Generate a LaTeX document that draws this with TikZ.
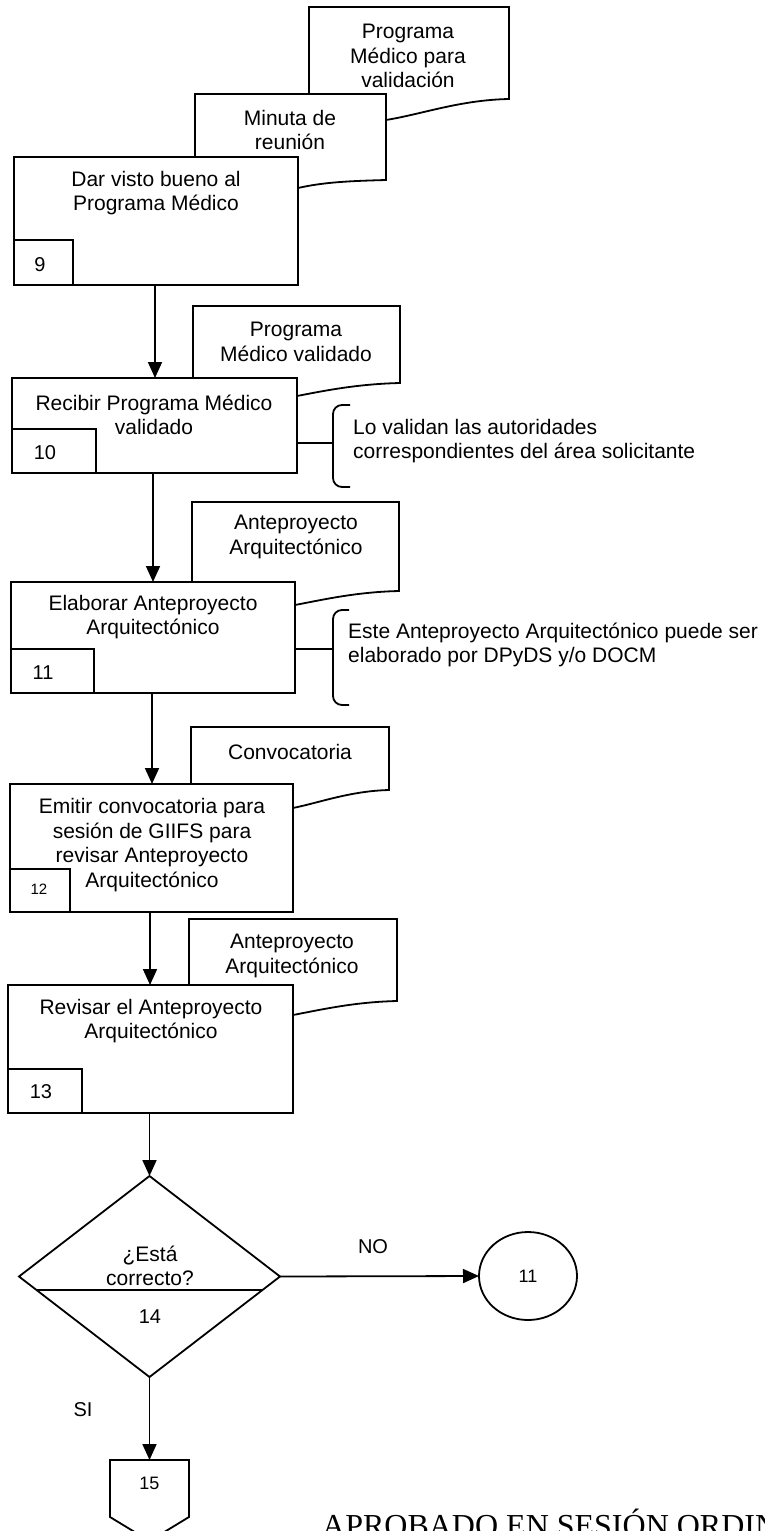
\documentclass[tikz,border=0pt]{standalone}
\usepackage{fontspec}
\setmainfont{Liberation Sans}
\newfontfamily\stampfont{Liberation Serif}
\usetikzlibrary{arrows.meta,shapes.geometric,calc}

\tikzset{
  ln/.style={line width=1.8pt},
  procbox/.style={draw, line width=1.8pt, fill=white, rectangle, inner sep=0pt, outer sep=0pt},
  numbox/.style={draw, line width=1.8pt, fill=white, rectangle, inner sep=0pt, outer sep=0pt},
  txt/.style={inner sep=0pt, align=center, font=\fontsize{21pt}{24.5pt}\selectfont},
  ann/.style={inner sep=0pt, align=left, font=\fontsize{21pt}{24.5pt}\selectfont},
  numtxt/.style={inner sep=0pt, font=\fontsize{20pt}{24pt}\selectfont},
  docshape/.style={draw, line width=1.8pt, fill=white, line join=miter},
  arr/.style={line width=1.8pt, -{Triangle[length=16pt,width=14pt]}},
}

\newcommand\docpath[6]{%
  \path[docshape] (#1,#2) -- (#3,#2) -- (#3,#4) .. controls ({#3-0.4*(#3-#5)},{#4+1}) and ({#5+0.3*(#3-#5)},{#6-6}) .. (#5,#6) -- (#1,{#6+3}) -- cycle;}

\begin{document}
\begin{tikzpicture}[x=1pt,y=-1pt]
\useasboundingbox (0,0) rectangle (765,1531);
\clip (0,0) rectangle (765,1531);
\fill[white] (0,0) rectangle (765,1531);

% ---------- step 9 ----------
\docpath{309}{7}{509}{99}{386}{120}
\node[txt] (d1) at (408,56) {Programa\\Médico para\\validación};
\docpath{195}{94}{386}{180}{298}{188}
\node[txt] (d2) at (290,130) {Minuta de\\reunión};
\node[procbox, minimum width=284pt, minimum height=128pt] (b9) at (156,221) {};
\node[txt] (t9) at (156,193) {Dar visto bueno al\\Programa Médico};
\node[numbox, minimum width=59pt, minimum height=45pt] (n9) at (43.5,262.5) {};
\node[numtxt] (l9) at (40,265) {9};

% ---------- step 10 ----------
\docpath{193}{306}{400}{383}{297}{396}
\node[txt] (d3) at (296,342) {Programa\\Médico validado};
\node[procbox, minimum width=285pt, minimum height=95pt] (b10) at (154.5,425.5) {};
\node[txt] (t10) at (154,415) {Recibir Programa Médico\\validado};
\node[numbox, minimum width=84pt, minimum height=44pt] (n10) at (54,451) {};
\node[numtxt] (l10) at (45,453) {10};
\coordinate (x9) at (155,0);
\draw[arr] (b9.south -| x9) -- (b10.north -| x9);

\coordinate (br1) at (333,443);
\draw[ln] (b10.east |- br1) -- (br1);
\draw[ln, rounded corners=9pt] (350,405) -- (333,405) -- (333,487) -- (350,487);
\node[ann, anchor=west] (a1) at (353,441) {Lo validan las autoridades\\correspondientes del área solicitante};

% ---------- step 11 ----------
\docpath{192}{502}{399}{591}{295}{605}
\node[txt] (d4) at (296,537) {Anteproyecto\\Arquitectónico};
\node[procbox, minimum width=284pt, minimum height=111pt] (b11) at (153,637.5) {};
\node[txt] (t11) at (153,617) {Elaborar Anteproyecto\\Arquitectónico};
\node[numbox, minimum width=83pt, minimum height=44pt] (n11) at (52.5,671) {};
\node[numtxt] (l11) at (43,673) {11};
\coordinate (x10) at (153,0);
\draw[arr] (b10.south -| x10) -- (b11.north -| x10);

\coordinate (br2) at (333,649);
\draw[ln] (b11.east |- br2) -- (br2);
\draw[ln, rounded corners=9pt] (349,610) -- (333,610) -- (333,705) -- (349,705);
\node[ann, anchor=west] (a2) at (348,645) {Este Anteproyecto Arquitectónico puede ser\\elaborado por DPyDS y/o DOCM};

% ---------- step 12 ----------
\docpath{191}{727}{389}{790}{293}{808}
\node[txt] (d5) at (290,752) {Convocatoria};
\node[procbox, minimum width=283pt, minimum height=128pt] (b12) at (151.5,848) {};
\node[txt] (t12) at (152,845) {Emitir convocatoria para\\sesión de GIIFS para\\revisar Anteproyecto\\Arquitectónico};
\node[numbox, minimum width=60pt, minimum height=43pt] (n12) at (40,890.5) {};
\node[inner sep=0pt, font=\fontsize{15pt}{18pt}\selectfont] (l12) at (39,889) {12};
\coordinate (x11) at (152,0);
\draw[arr] (b11.south -| x11) -- (b12.north -| x11);

% ---------- step 13 ----------
\docpath{189}{919}{397}{1001}{293}{1015}
\node[txt] (d6) at (292,956) {Anteproyecto\\Arquitectónico};
\node[procbox, minimum width=285pt, minimum height=128pt] (b13) at (150.5,1049) {};
\node[txt] (t13) at (151,1021) {Revisar el Anteproyecto\\Arquitectónico};
\node[numbox, minimum width=74pt, minimum height=44pt] (n13) at (45,1091) {};
\node[numtxt] (l13) at (41,1092) {13};
\coordinate (x12) at (150,0);
\draw[arr] (b12.south -| x12) -- (b13.north -| x12);

% ---------- step 14 ----------
\node[draw, ln, diamond, minimum width=261pt, minimum height=201pt, inner sep=0pt, outer sep=0pt] (dm) at (149.5,1276.5) {};
\draw[arr] (b13.south -| dm.north) -- (dm.north);
\draw[ln] ($(dm.west)!0.134!(dm.south)$) -- ($(dm.east)!0.134!(dm.south)$);
\node[txt] (q14) at (150,1266) {¿Está\\correcto?};
\node[numtxt] (l14) at (150,1317) {14};

\node[draw, ln, ellipse, minimum width=98pt, minimum height=88pt, inner sep=0pt, outer sep=0pt, font=\fontsize{18pt}{20pt}\selectfont] (c11) at (528,1276) {11};
\draw[arr] (dm.east) -- (c11.west);
\node[numtxt] (no) at (373,1247) {NO};

% ---------- off-page connector 15 ----------
\coordinate (op) at (149.5,1460);
\draw[ln, line join=miter] (110,1460) -- (189,1460) -- (189,1517) -- (149.5,1541) -- (110,1517) -- cycle;
\draw[arr] (dm.south) -- (op);
\node[numtxt] (si) at (83,1410) {SI};
\node[inner sep=0pt, font=\fontsize{18pt}{20pt}\selectfont] (l15) at (149.5,1483) {15};

% ---------- stamp ----------
\node[anchor=base west, inner sep=0pt, font=\stampfont\fontsize{32pt}{34pt}\selectfont] (stamp) at (322,1536) {APROBADO EN SESIÓN ORDINARIA};
\end{tikzpicture}
\end{document}
